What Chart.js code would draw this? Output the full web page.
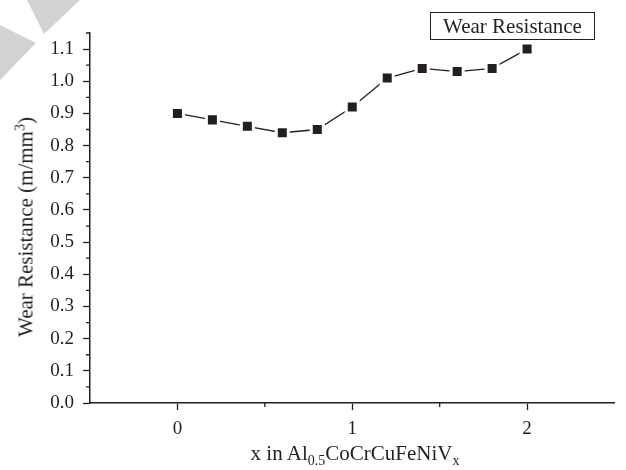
<!DOCTYPE html>
<html>
<head>
<meta charset="utf-8">
<script src="https://cdn.jsdelivr.net/npm/chart.js@4"></script>
<style>
  body { margin: 0; background: #fff; }
  #wrap { position: relative; width: 626px; height: 470px; font-family: "Liberation Serif", serif; color: #231f20; }
  #chart { position: absolute; left: 0; top: 0; }
  .mark { position: absolute; left: 0; top: 0; width: 100px; height: 100px; background: #d2d2d2; }
  #yTitle { position: absolute; left: 26px; top: 227px; font-size: 21px; white-space: nowrap;
            transform: translate(-50%, -50%) rotate(-90deg); }
  #xTitle { position: absolute; left: 355px; top: 442px; font-size: 21px; white-space: nowrap;
            transform: translateX(-50%); line-height: 22px; }
  #legend { position: absolute; left: 430px; top: 12px; width: 163px; height: 26px; border: 1px solid #231f20;
            font-size: 21px; line-height: 26px; text-align: center; }
  sub, sup { font-size: 14px; line-height: 0; }
</style>
</head>
<body>
<div id="wrap">
  <div class="mark" style="clip-path: polygon(27px 0, 80px 0, 44px 34px);"></div>
  <div class="mark" style="clip-path: polygon(0 25px, 36px 43px, 0 80px);"></div>
  <canvas id="chart" width="626" height="470"></canvas>
  <div id="yTitle">Wear Resistance (m/mm<sup>3</sup>)</div>
  <div id="xTitle">x in Al<sub>0.5</sub>CoCrCuFeNiV<sub>x</sub></div>
  <div id="legend">Wear Resistance</div>
</div>
<script>
const xValues = [0, 0.2, 0.4, 0.6, 0.8, 1.0, 1.2, 1.4, 1.6, 1.8, 2.0];
const wearResistance = [0.90, 0.88, 0.86, 0.84, 0.85, 0.92, 1.01, 1.04, 1.03, 1.04, 1.10];
const xTicks = [0, 1, 2];
const xMinorTicks = [0.5, 1.5];
const yTicks = [0, 0.1, 0.2, 0.3, 0.4, 0.5, 0.6, 0.7, 0.8, 0.9, 1.0, 1.1];
const yMinorTicks = [0.05, 0.15, 0.25, 0.35, 0.45, 0.55, 0.65, 0.75, 0.85, 0.95, 1.05, 1.15];

const ink = '#231f20';

// short minor ticks, drawn outward from the axis lines
const minorTicks = {
  id: 'minorTicks',
  afterDraw(chart) {
    const ctx = chart.ctx;
    const x = chart.scales.x;
    const y = chart.scales.y;
    ctx.save();
    ctx.strokeStyle = ink;
    ctx.lineWidth = 1.3;
    ctx.beginPath();
    xMinorTicks.forEach(v => {
      const px = x.getPixelForValue(v);
      ctx.moveTo(px, y.bottom);
      ctx.lineTo(px, y.bottom + 4);
    });
    yMinorTicks.forEach(v => {
      const py = y.getPixelForValue(v);
      ctx.moveTo(x.left, py);
      ctx.lineTo(x.left - 4, py);
    });
    ctx.stroke();
    ctx.restore();
  }
};

function main() {
  const ctx = document.getElementById('chart').getContext('2d');
  const tickFont = { family: 'Liberation Serif', size: 19 };

  new Chart(ctx, {
    type: 'line',
    data: {
      datasets: [{
        label: 'Wear Resistance',
        data: xValues.map((x, i) => ({ x: x, y: wearResistance[i] })),
        borderColor: ink,
        borderWidth: 1.3,
        pointStyle: 'rect',
        pointRadius: 8.5,
        pointBackgroundColor: ink,
        pointBorderColor: '#ffffff',
        pointBorderWidth: 3,
        tension: 0,
        fill: false
      }]
    },
    options: {
      responsive: false,
      animation: false,
      events: [],
      layout: { padding: { top: 33, right: 6, left: 0, bottom: 0 } },
      plugins: {
        legend: { display: false },
        tooltip: { enabled: false }
      },
      scales: {
        x: {
          type: 'linear',
          min: -0.5,
          max: 2.5,
          afterBuildTicks: scale => { scale.ticks = xTicks.map(v => ({ value: v })); },
          afterFit: scale => { scale.height = 67; },
          border: { display: true, color: ink, width: 1.5 },
          grid: { drawOnChartArea: false, drawTicks: true, tickLength: 7, tickColor: ink, tickWidth: 1.3 },
          ticks: { font: tickFont, color: ink, padding: 8, callback: v => String(v) }
        },
        y: {
          min: 0,
          max: 1.15,
          afterBuildTicks: scale => { scale.ticks = yTicks.map(v => ({ value: v })); },
          afterFit: scale => { scale.width = 90; },
          border: { display: true, color: ink, width: 1.5 },
          grid: { drawOnChartArea: false, drawTicks: true, tickLength: 7, tickColor: ink, tickWidth: 1.3 },
          ticks: { font: tickFont, color: ink, padding: 9, callback: v => v.toFixed(1) }
        }
      }
    },
    plugins: [minorTicks]
  });
}

window.addEventListener('DOMContentLoaded', main);
</script>
</body>
</html>
